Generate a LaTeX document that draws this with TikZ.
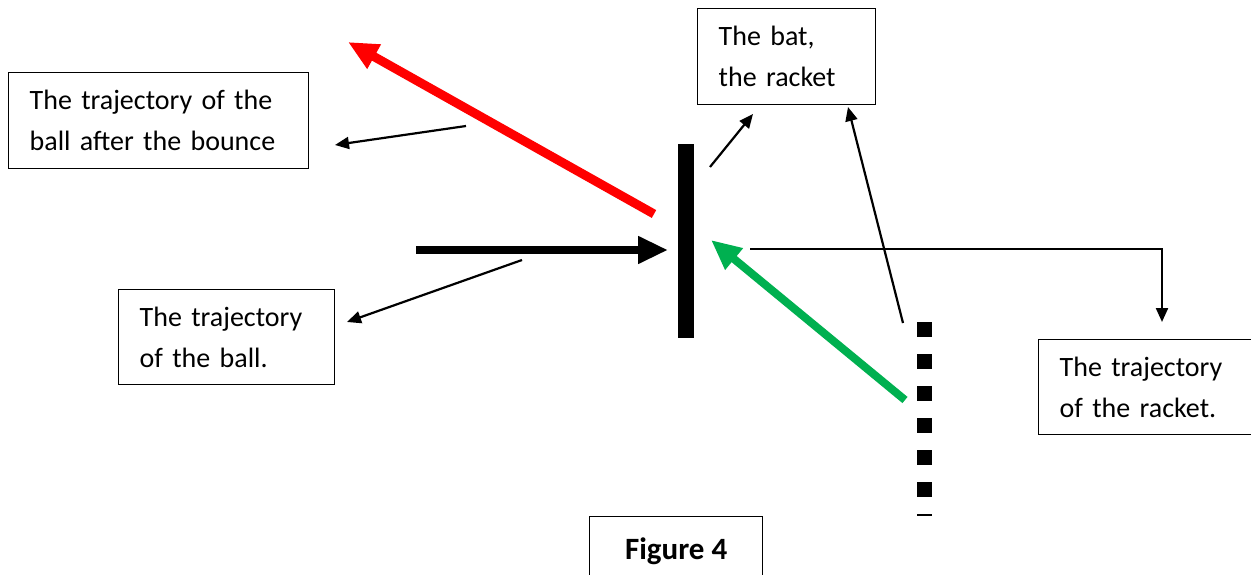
\documentclass[tikz,border=0pt]{standalone}
\usepackage{fontspec}
\setmainfont{Carlito}
\usetikzlibrary{arrows.meta}
\begin{document}
\begin{tikzpicture}[x=1pt,y=-1pt,
  box/.style={draw,line width=1.4pt,anchor=north west,inner xsep=21pt,inner ysep=0pt,
    align=left,font=\fontsize{28}{41}\selectfont},
  thin/.style={line width=2.2pt,-{Triangle[length=14pt,width=12pt]}},
  thick/.style={line width=#1,-{Triangle[length=30pt,width=26pt]}}]
\useasboundingbox (0,0) rectangle (1251,575);
% boxes
\node[box,minimum width=300pt,minimum height=96pt,text width=258pt] (bounce) at (8,72)
  {The trajectory of the\\ball after the bounce};
\node[box,minimum width=216pt,minimum height=95pt,text width=174pt] (ball) at (118,289)
  {The trajectory\\of the ball.};
\node[box,minimum width=178pt,minimum height=96pt,text width=136pt] (bat) at (697,8)
  {The bat,\\the racket};
\node[box,minimum width=240pt,minimum height=95pt,text width=198pt] (racket) at (1038,339)
  {The trajectory\\of the racket.};
\node[draw,line width=1.4pt,anchor=north west,minimum width=173pt,minimum height=70pt,
  font=\fontsize{31}{36}\selectfont\bfseries] (fig) at (589,516) {Figure 4};
% bat (racket)
\fill (678,144) rectangle (694,338);
% racket trajectory (dashed squares)
\coordinate (dtop) at (924.5,322);
\coordinate (dbot) at (924.5,516);
\draw[line width=15pt,dash pattern=on 15pt off 17pt] (dtop) -- (dbot);
% thick arrows
\coordinate (incs) at (416,250);
\coordinate (ince) at (668,250);
\draw[thick=8pt] (incs) -- (ince);
\coordinate (reds) at (654,214);
\coordinate (rede) at (348,42);
\draw[thick=9pt,red] (reds) -- (rede);
\coordinate (grs) at (905,400);
\coordinate (gre) at (711,240);
\draw[thick=8pt,color={rgb,255:red,0;green,176;blue,80}] (grs) -- (gre);
% thin leader arrows
\coordinate (l1) at (466,126);
\coordinate (l1e) at (335,145);
\draw[thin] (l1) -- (l1e);
\coordinate (l2) at (522,260);
\coordinate (l2e) at (347,322);
\draw[thin] (l2) -- (l2e);
\coordinate (l3) at (710,167);
\coordinate (l3e) at (753,114);
\draw[thin] (l3) -- (l3e);
\coordinate (l4) at (903,323);
\coordinate (l4e) at (848,107);
\draw[thin] (l4) -- (l4e);
\coordinate (l5) at (750,249);
\coordinate (l5e) at (1162,322);
\draw[thin] (l5) -| (l5e);
\end{tikzpicture}
\end{document}
